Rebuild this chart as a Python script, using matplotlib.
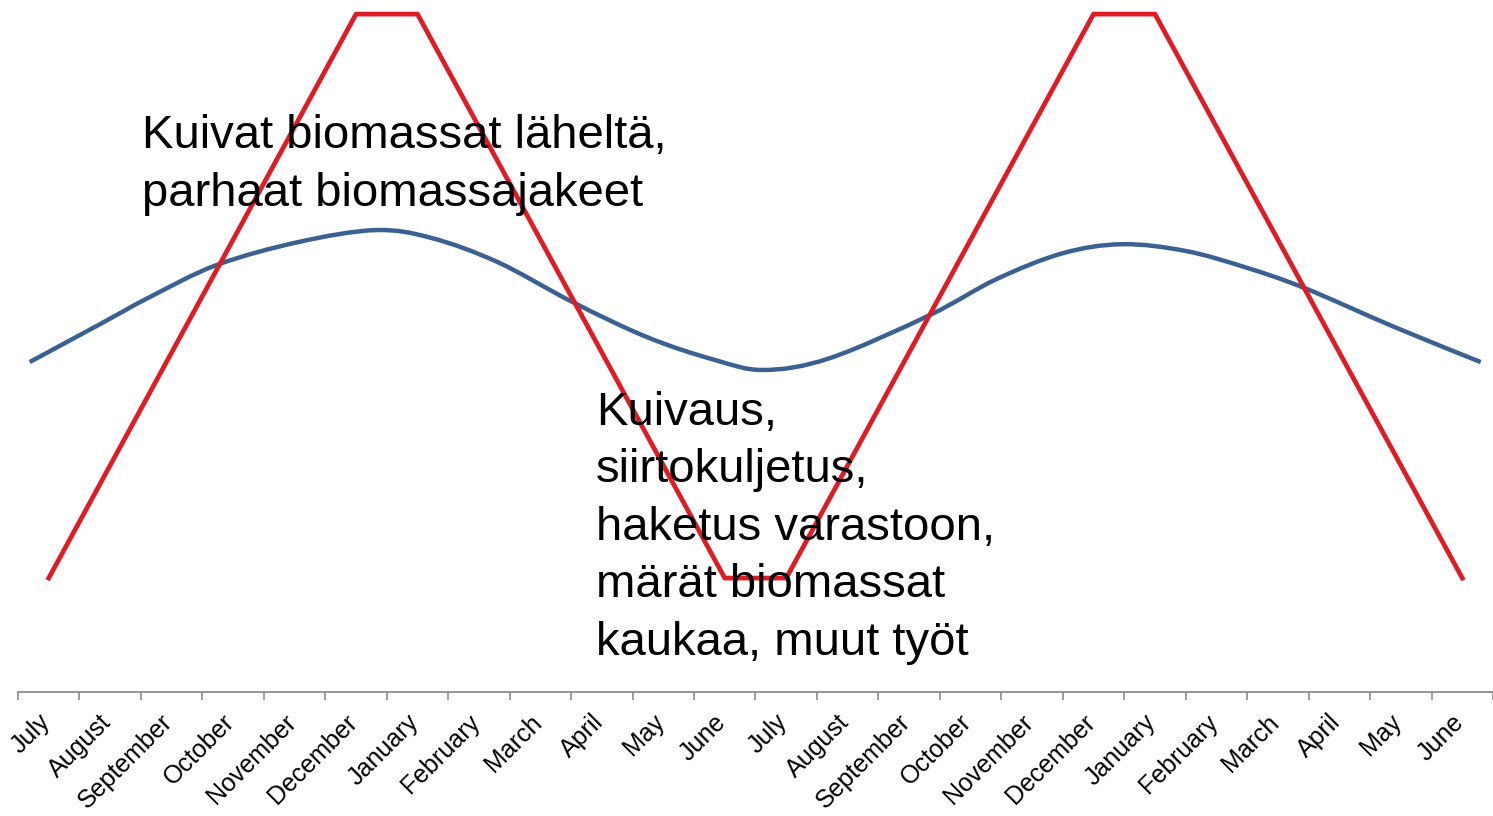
import matplotlib.pyplot as plt
import matplotlib.transforms as mtransforms
from matplotlib.path import Path
from matplotlib.patches import PathPatch
import numpy as np

plt.rcParams['font.family'] = ['Liberation Sans', 'DejaVu Sans']

# two seasons, July..June
months = ["July", "August", "September", "October", "November", "December",
          "January", "February", "March", "April", "May", "June"] * 2

# red: work load (relative), one value per month
red_level = [0, 20, 40, 60, 80, 100, 100, 80, 60, 40, 20, 0,
             0, 20, 40, 60, 80, 100, 100, 80, 60, 40, 20, 0]

# blue: smooth curve (month position, level)
blue_pos = [-0.31, 0.83, 1.64, 2.73, 4.07, 5.32, 6.23, 7.31,
            8.53, 9.74, 10.83, 11.64, 12.71, 14.33, 15.42, 16.50,
            17.47, 18.50, 19.47, 20.44, 21.90, 23.30]
blue_level = [38.3, 45.0, 49.8, 55.5, 59.6, 61.7, 60.3, 56.0,
              48.9, 42.7, 38.7, 36.9, 39.0, 46.6, 53.0, 57.6,
              59.2, 58.0, 55.1, 51.4, 44.5, 38.3]

red_color = "#E01B24"
blue_color = "#3A6191"

fig = plt.figure(figsize=(14.93, 8.16), dpi=100)
ax = fig.add_axes([18 / 1493, 124 / 816, 1 - 18 / 1493, 692 / 816])

ax.plot(range(len(red_level)), red_level, color=red_color, lw=3.4)

# smoothed line like the spreadsheet one: bezier segments through the points
pts = np.column_stack([blue_pos, blue_level])
verts = [pts[0]]
codes = [Path.MOVETO]
for i in range(len(pts) - 1):
    p0 = pts[max(i - 1, 0)]
    p1 = pts[i]
    p2 = pts[i + 1]
    p3 = pts[min(i + 2, len(pts) - 1)]
    verts += [p1 + (p2 - p0) / 6, p2 - (p3 - p1) / 6, p2]
    codes += [Path.CURVE4] * 3
ax.add_patch(PathPatch(Path(verts, codes), facecolor="none",
                       edgecolor=blue_color, lw=3.2, capstyle="butt"))

ax.set_xlim(-0.5, -0.5 + 1475 / 61.7)
ax.set_ylim(-20.2, 102.5)

for s in ["top", "right", "left"]:
    ax.spines[s].set_visible(False)
ax.spines["bottom"].set_color("#8c8c8c")
ax.spines["bottom"].set_linewidth(1.3)

ax.set_yticks([])
ax.set_xticks(np.arange(-0.5, 24, 1))
ax.tick_params(axis="x", which="major", length=5.5, width=1.2, color="#8c8c8c",
               labelbottom=False)
ax.set_xticks(np.arange(24), minor=True)
ax.set_xticklabels(months, minor=True, rotation=45, ha="right", va="top",
                   fontsize=18)
ax.tick_params(axis="x", which="minor", length=0, pad=13)
shift = mtransforms.ScaledTranslation(6 / 100, 0, fig.dpi_scale_trans)
for lab in ax.get_xticklabels(minor=True):
    lab.set_transform(lab.get_transform() + shift)

# va="baseline" sits on the last line's baseline
fig.text(142 / 1493, 1 - 206 / 816, "Kuivat biomassat läheltä,\nparhaat biomassajakeet",
         fontsize=34, va="baseline", ha="left", linespacing=1.4)
fig.text(596 / 1493, 1 - 655 / 816,
         "Kuivaus,\nsiirtokuljetus,\nhaketus varastoon,\nmärät biomassat\nkaukaa, muut työt",
         fontsize=34, va="baseline", ha="left", linespacing=1.4)

fig.savefig("out.png", dpi=100)
